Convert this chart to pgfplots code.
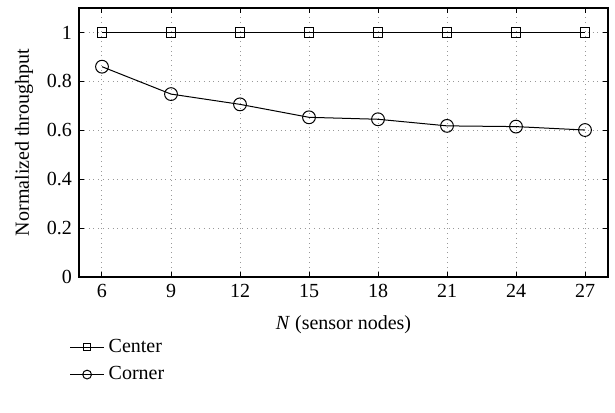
\documentclass[border=0pt]{standalone}
\usepackage{pgfplots}
\pgfplotsset{compat=1.18}
\usepackage{fontspec}
\setmainfont{Liberation Serif}
\begin{document}
\fontsize{10}{12}\selectfont
\begin{tikzpicture}
\begin{axis}[
  scale only axis,
  width=264.5pt, height=134.5pt,
  xmin=5, xmax=28, ymin=0, ymax=1.1,
  xtick={6,9,12,15,18,21,24,27},
  ytick={0,0.2,0.4,0.6,0.8,1},
  yticklabels={0,0.2,0.4,0.6,0.8,1},
  /pgf/number format/assume math mode=true,
  tick align=inside,
  major tick length=2.5pt,
  grid=major,
  major grid style={dotted, gray!80, line width=0.5pt},
  axis line style={line width=0.6pt},
  tick style={black, line width=0.5pt},
  xlabel={\textit{N} (sensor nodes)},
  ylabel={Normalized throughput},
  ylabel style={yshift=0pt},
  xlabel style={yshift=-2pt},
  tick label style={font=\fontsize{10}{12}\selectfont},
  label style={font=\fontsize{10}{12}\selectfont},
  legend style={at={(axis description cs:-0.03,-0.2)}, anchor=north west, draw=none, fill=none,
    font=\fontsize{10}{12}\selectfont, row sep=1.5pt},
  legend cell align=left,
]
\addplot[black, line width=0.5pt, mark=square, mark size=2.4pt, mark options={solid, line width=0.5pt},
  legend image post style={mark size=1.7pt}]
  coordinates {(6,1)(9,1)(12,1)(15,1)(18,1)(21,1)(24,1)(27,1)};
\addlegendentry{Center}
\addplot[black, line width=0.5pt, mark=o, mark size=3.2pt, mark options={solid, line width=0.5pt},
  legend image post style={mark size=2.2pt}]
  coordinates {(6,0.86)(9,0.748)(12,0.706)(15,0.653)(18,0.645)(21,0.618)(24,0.615)(27,0.601)};
\addlegendentry{Corner}
\end{axis}
\path (-39.5pt,-67.5pt) rectangle (268pt,138.5pt);
\end{tikzpicture}
\end{document}
